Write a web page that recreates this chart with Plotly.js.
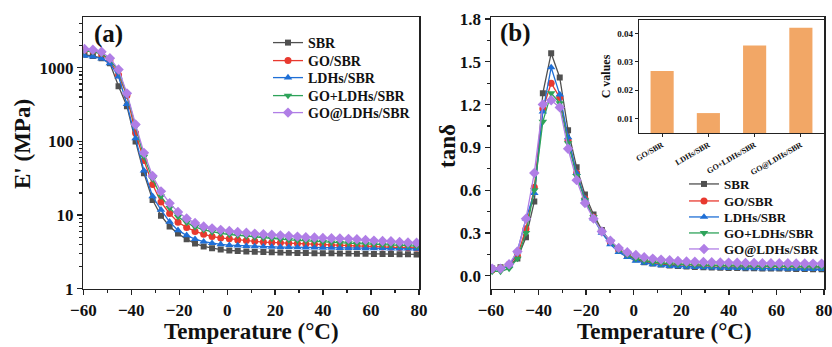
<!DOCTYPE html>
<html>
<head>
<meta charset="utf-8">
<script src="https://cdn.plot.ly/plotly-3.0.1.min.js"></script>
<style>html,body{margin:0;padding:0;background:#fff;}#chart{width:832px;height:347px;}</style>
</head>
<body>
<div id="chart"></div>
<script>
// ---------- data ----------
const seriesNames = ["SBR", "GO/SBR", "LDHs/SBR", "GO+LDHs/SBR", "GO@LDHs/SBR"];
const temperature = [-59.5,-56,-52.4,-48.9,-45.3,-41.8,-38.2,-34.7,-31.1,-27.6,-24,-20.5,-16.9,-13.4,-9.8,-6.3,-2.7,0.9,4.4,8,11.5,15.1,18.6,22.2,25.7,29.3,32.8,36.4,39.9,43.5,47,50.6,54.1,57.7,61.2,64.8,68.3,71.9,75.4,79];

// storage modulus E' (MPa)
const sbrE   = [1500,1450,1350,1150,560,300,100,37,16,9.8,7.0,5.6,4.7,4.1,3.75,3.55,3.4,3.3,3.25,3.2,3.17,3.14,3.12,3.1,3.08,3.06,3.05,3.04,3.03,3.02,3.01,3.0,2.99,2.98,2.97,2.96,2.95,2.94,2.93,2.92];
const goE    = [1750,1700,1550,1250,800,420,130,55,26,15,10.5,8.0,6.8,6.0,5.5,5.1,4.9,4.75,4.6,4.5,4.4,4.3,4.25,4.2,4.15,4.1,4.05,4.0,3.95,3.9,3.85,3.82,3.78,3.75,3.72,3.68,3.65,3.62,3.6,3.57];
const ldhE   = [1450,1420,1330,1150,760,320,110,40,18,11.8,8.1,6.2,5.3,4.7,4.35,4.15,4.0,3.9,3.85,3.8,3.75,3.72,3.7,3.68,3.66,3.64,3.62,3.6,3.59,3.58,3.57,3.56,3.55,3.54,3.53,3.52,3.51,3.5,3.49,3.48];
const goPlusE= [1700,1650,1550,1300,900,430,160,62,31,18,12.5,9.5,7.9,6.9,6.3,5.9,5.65,5.45,5.3,5.15,5.0,4.9,4.8,4.7,4.6,4.52,4.45,4.38,4.32,4.26,4.2,4.15,4.1,4.05,4.0,3.95,3.9,3.86,3.82,3.78];
const goAtE  = [1800,1760,1650,1350,950,450,170,70,34,21,14.5,11,9.0,7.8,7.0,6.6,6.3,6.1,5.9,5.75,5.6,5.5,5.4,5.3,5.2,5.1,5.0,4.95,4.9,4.85,4.8,4.75,4.7,4.6,4.5,4.45,4.4,4.3,4.25,4.2];

// loss factor tan delta
const sbrTan   = [0.05,0.06,0.07,0.12,0.27,0.52,1.28,1.56,1.39,1.02,0.76,0.57,0.43,0.32,0.235,0.175,0.14,0.115,0.095,0.085,0.078,0.072,0.068,0.065,0.062,0.06,0.058,0.056,0.055,0.054,0.053,0.052,0.051,0.05,0.05,0.049,0.048,0.047,0.046,0.045];
const goTan    = [0.04,0.05,0.08,0.14,0.33,0.62,1.17,1.35,1.25,0.95,0.72,0.54,0.41,0.31,0.235,0.18,0.145,0.12,0.105,0.095,0.088,0.083,0.08,0.078,0.076,0.074,0.072,0.071,0.07,0.069,0.068,0.067,0.066,0.066,0.065,0.065,0.064,0.064,0.063,0.063];
const ldhTan   = [0.04,0.05,0.07,0.17,0.40,0.58,1.15,1.46,1.27,0.97,0.72,0.54,0.40,0.30,0.22,0.165,0.13,0.105,0.09,0.08,0.073,0.068,0.065,0.062,0.06,0.058,0.056,0.055,0.054,0.053,0.052,0.051,0.05,0.05,0.049,0.048,0.048,0.047,0.046,0.046];
const goPlusTan= [0.03,0.03,0.05,0.12,0.30,0.60,1.08,1.28,1.21,0.93,0.70,0.53,0.41,0.31,0.24,0.18,0.145,0.12,0.105,0.095,0.088,0.083,0.08,0.077,0.075,0.073,0.071,0.07,0.069,0.068,0.067,0.066,0.065,0.065,0.064,0.063,0.063,0.062,0.062,0.061];
const goAtTan  = [0.05,0.05,0.08,0.17,0.40,0.72,1.20,1.23,1.18,0.89,0.67,0.51,0.40,0.31,0.245,0.195,0.165,0.145,0.13,0.12,0.113,0.108,0.104,0.1,0.098,0.096,0.094,0.093,0.092,0.091,0.09,0.089,0.088,0.088,0.087,0.087,0.086,0.086,0.085,0.085];

// inset bar chart
const insetCategories = ["GO/SBR", "LDHs/SBR", "GO+LDHs/SBR", "GO@LDHs/SBR"];
const insetValues = [0.0268, 0.0120, 0.0357, 0.0420];

// ---------- styling ----------
const colors = ["#505050", "#e8392f", "#1f6fd6", "#2ea35a", "#b07ee6"];
const symbols = ["square", "circle", "triangle-up", "triangle-down", "diamond"];
const msizes = [6, 7, 7.5, 7.5, 8];
const FONT = "Liberation Serif, Times New Roman, serif";
const eSeries = [sbrE, goE, ldhE, goPlusE, goAtE];
const tanSeries = [sbrTan, goTan, ldhTan, goPlusTan, goAtTan];

// legend rows (pixel centres) for the two panels
const legendRowsA = [43, 61, 78, 96, 113];
const legendRowsB = [184, 201, 217, 233, 249];

const traces = [];
const legendDefs = {};
function legendName(k) { return k === 1 ? "legend" : "legend" + k; }

eSeries.forEach((ys, i) => {
  const ln = legendName(i + 1);
  traces.push({
    x: temperature, y: ys, name: seriesNames[i], type: "scatter", mode: "lines+markers",
    xaxis: "x", yaxis: "y", legend: ln,
    line: {color: colors[i], width: 1.3},
    marker: {symbol: symbols[i], size: msizes[i], color: colors[i]}
  });
  legendDefs[ln] = {
    x: 268/832, xanchor: "left", y: 1 - legendRowsA[i]/347, yanchor: "middle",
    bgcolor: "rgba(0,0,0,0)", borderwidth: 0,
    font: {family: FONT, size: 14, color: "#111", weight: "bold"}
  };
});
tanSeries.forEach((ys, i) => {
  const ln = legendName(i + 6);
  traces.push({
    x: temperature, y: ys, name: seriesNames[i], type: "scatter", mode: "lines+markers",
    xaxis: "x2", yaxis: "y2", legend: ln,
    line: {color: colors[i], width: 1.3},
    marker: {symbol: symbols[i], size: msizes[i], color: colors[i]}
  });
  legendDefs[ln] = {
    x: 684/832, xanchor: "left", y: 1 - legendRowsB[i]/347, yanchor: "middle",
    bgcolor: "rgba(0,0,0,0)", borderwidth: 0,
    font: {family: FONT, size: 13, color: "#111", weight: "bold"}
  };
});
traces.push({
  x: insetCategories, y: insetValues, type: "bar", xaxis: "x3", yaxis: "y3",
  marker: {color: "#f2a766"}, showlegend: false
});

// minor tick positions for log axis
const logMinor = [];
for (let d = 1; d <= 1000; d *= 10) for (let k = 2; k <= 9; k++) logMinor.push(d * k);

const axisLine = {showline: true, mirror: true, linecolor: "#222", linewidth: 1.5, showgrid: false, zeroline: false,
  ticks: "outside", ticklen: 5, tickwidth: 1.3, tickcolor: "#222", ticklabeloverflow: "allow"};
const tickFont = {family: FONT, size: 17, color: "#111", weight: "bold"};
const titleFont = {family: FONT, size: 23, color: "#111", weight: "bold"};

const yTop = 1 - 17/347, yBot = 1 - 288.7/347;

function titleAnn(text, px, py, angle) {
  return {text: text, xref: "paper", yref: "paper", x: px/832, y: 1 - py/347,
    xanchor: "center", yanchor: "middle", textangle: angle, showarrow: false, font: titleFont};
}

const layout = Object.assign({
  width: 832, height: 347,
  margin: {l: 0, r: 0, t: 0, b: 0},
  paper_bgcolor: "#fff", plot_bgcolor: "#fff",
  font: {family: FONT},
  bargap: 0.5,
  xaxis: Object.assign({}, axisLine, {
    domain: [83.3/832, 419/832], anchor: "y", range: [-60, 80], tick0: -60, dtick: 20,
    minor: {dtick: 10, ticks: "outside", ticklen: 3, tickcolor: "#222"},
    tickfont: tickFont
  }),
  yaxis: Object.assign({}, axisLine, {
    domain: [yBot, yTop], anchor: "x", type: "log", range: [0, 3.69],
    tickmode: "array", tickvals: [1, 10, 100, 1000], ticktext: ["1", "10", "100", "1000"],
    minor: {tickmode: "array", tickvals: logMinor, ticks: "outside", ticklen: 3, tickcolor: "#222"},
    tickfont: tickFont
  }),
  xaxis2: Object.assign({}, axisLine, {
    domain: [491/832, 824/832], anchor: "y2", range: [-60, 80], tick0: -60, dtick: 20,
    minor: {dtick: 10, ticks: "outside", ticklen: 3, tickcolor: "#222"},
    tickfont: tickFont
  }),
  yaxis2: Object.assign({}, axisLine, {
    domain: [yBot, yTop], anchor: "x2", range: [-0.091, 1.814], tick0: 0, dtick: 0.3, tickformat: ".1f",
    minor: {dtick: 0.15, ticks: "outside", ticklen: 3, tickcolor: "#222"},
    tickfont: tickFont
  }),
  xaxis3: {
    domain: [639/832, 824/832], anchor: "y3", type: "category",
    showline: true, mirror: true, linecolor: "#222", linewidth: 1.2, ticks: "outside", ticklen: 3, tickcolor: "#222",
    tickangle: -30, tickfont: {family: FONT, size: 8, color: "#111", weight: "bold"}, showgrid: false
  },
  yaxis3: {
    domain: [1 - 133/347, 1 - 20/347], anchor: "x3", range: [0.005, 0.0447],
    tickvals: [0.01, 0.02, 0.03, 0.04], tickformat: ".2f",
    showline: true, mirror: true, linecolor: "#222", linewidth: 1.2, ticks: "outside", ticklen: 3, tickcolor: "#222",
    tickfont: {family: FONT, size: 9, color: "#111", weight: "bold"}, showgrid: false, zeroline: false,
    title: {text: "C values", font: {family: FONT, size: 12, color: "#111", weight: "bold"}, standoff: 4}
  },
  annotations: [
    {text: "(a)", xref: "paper", yref: "paper", x: 92/832, y: 1 - 34/347, xanchor: "left", yanchor: "middle",
     showarrow: false, font: {family: FONT, size: 25, color: "#111", weight: "bold"}},
    {text: "(b)", xref: "paper", yref: "paper", x: 498/832, y: 1 - 33/347, xanchor: "left", yanchor: "middle",
     showarrow: false, font: {family: FONT, size: 25, color: "#111", weight: "bold"}},
    titleAnn("Temperature (°C)", 252, 331.5, 0),
    titleAnn("Temperature (°C)", 664, 331.5, 0),
    titleAnn("E' (MPa)", 23, 144, -90),
    titleAnn("tanδ", 447, 146, -90)
  ],
  showlegend: true
}, legendDefs);

Plotly.newPlot("chart", traces, layout, {displayModeBar: false, staticPlot: true});
</script>
</body>
</html>
